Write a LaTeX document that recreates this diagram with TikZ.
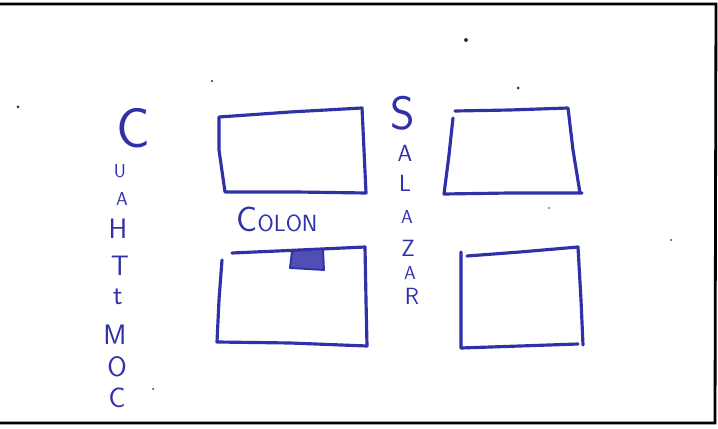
\documentclass[tikz,border=0pt]{standalone}
\usepackage{fontspec}
\begin{document}
\begin{tikzpicture}[x=0.03cm,y=-0.03cm,
  pen/.style={draw=ink,line width=2.7pt,line cap=round,line join=round},
  frame/.style={draw=black,line width=2.4pt},
  letter/.style={text=ink,font=\sffamily\fontsize{24}{24}\selectfont,inner sep=0pt},
  midletter/.style={text=ink,font=\sffamily\fontsize{20}{20}\selectfont,inner sep=0pt},
  smallletter/.style={text=ink,font=\sffamily\fontsize{16}{16}\selectfont,inner sep=0pt},
  bigletter/.style={text=ink,font=\sffamily\fontsize{48}{48}\selectfont,inner sep=0pt},
  speck/.style={fill=black!80}]
\definecolor{ink}{RGB}{48,48,168}
\useasboundingbox (0,0) rectangle (718,429);
\fill[white] (0,0) rectangle (718,429);
% frame
\draw[frame] (0,4) -- (716,4) -- (715,423) -- (0,423);
% top-left block
\draw[pen] (219,117) -- (290,112) -- (362,108) -- (364,150) -- (366,193) -- (296,192) -- (225,192) -- (219,150) -- cycle;
% top-right block
\draw[pen] (455,111) -- (510,110) -- (568,108) -- (573,150) -- (580,193);
\draw[pen] (453,118) -- (449,155) -- (444,194) -- (510,193) -- (582,193);
% bottom-left block
\draw[pen] (232,253) -- (300,250) -- (365,247) -- (366,300) -- (367,346) -- (290,343) -- (217,342) -- (219,300) -- (222,260);
% bottom-right block
\draw[pen] (467,256) -- (520,252) -- (578,247) -- (581,300) -- (583,345);
\draw[pen] (461,252) -- (461,300) -- (461,348) -- (520,346) -- (578,344);
% filled marker on the bottom-left block
\draw[pen,fill=ink!85,line width=1.6pt] (292,251) -- (323,249) -- (324,270) -- (290,268) -- cycle;
% left street name
\node[bigletter] (c1) at (133,128) {C};
\node[smallletter] (c2) at (120,171) {U};
\node[smallletter] (c3) at (122,199) {A};
\node[letter] (c4) at (118,229) {H};
\node[letter] (c5) at (120,266) {T};
\node[letter] (c6) at (118,297) {t};
\node[letter] (c7) at (115,335) {M};
\node[letter] (c8) at (117,367) {O};
\node[letter] (c9) at (117,398) {C};
% middle street name
\node[text=ink,font=\sffamily\fontsize{40}{40}\selectfont,inner sep=0pt] (s1) at (403,113) {S};
\node[midletter] (s2) at (405,153) {A};
\node[midletter] (s3) at (405,183) {L};
\node[smallletter] (s4) at (407,217) {A};
\node[midletter] (s5) at (408,248) {Z};
\node[smallletter] (s6) at (410,273) {A};
\node[midletter] (s7) at (412,296) {R};
% label
\node[text=ink,font=\sffamily\fontsize{20}{20}\selectfont,inner sep=0pt,anchor=base] (colon) at (277,232) {{\fontsize{30}{30}\selectfont C}OLON};
% specks
\fill[speck] (466,40) circle (2);
\fill[speck] (212,81) circle (1.2);
\fill[speck] (518,88) circle (1.5);
\fill[speck] (18,107) circle (1.5);
\fill[speck] (153,389) circle (1);
\fill[speck] (671,240) circle (1);
\fill[speck] (549,208) circle (0.8);
\end{tikzpicture}
\end{document}
